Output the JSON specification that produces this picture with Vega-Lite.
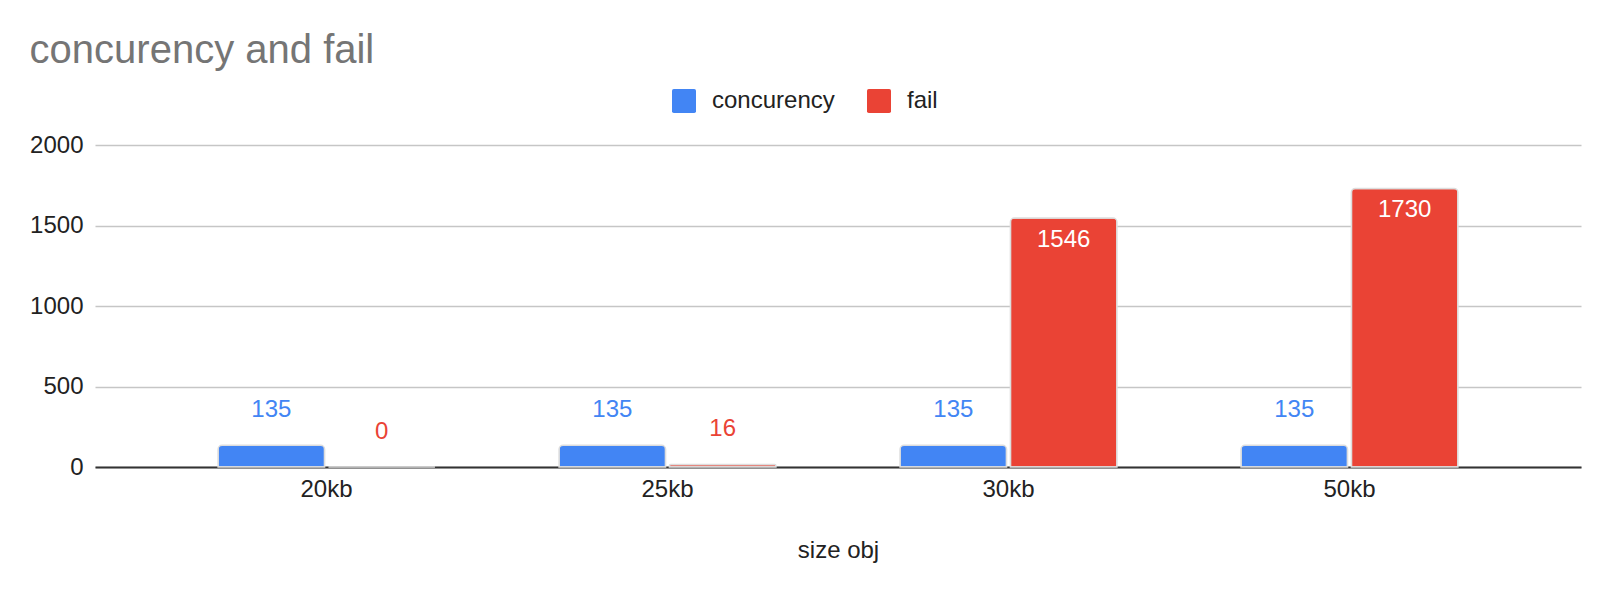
{
  "$schema": "https://vega.github.io/schema/vega-lite/v6.json",
  "width": 1486,
  "height": 322,
  "autosize": {"type": "none"},
  "padding": {"left": 95, "top": 145, "right": 29, "bottom": 125},
  "background": "white",
  "title": {
    "text": "concurency and fail",
    "anchor": "start",
    "frame": "bounds",
    "fontSize": 40,
    "font": "Liberation Sans",
    "fontWeight": "normal",
    "color": "#757575",
    "offset": 18
  },
  "config": {
    "view": {"stroke": null},
    "font": "Liberation Sans"
  },
  "data": {
    "values": [
      {"size": "20kb", "series": "concurency", "value": 135},
      {"size": "20kb", "series": "fail", "value": 0},
      {"size": "25kb", "series": "concurency", "value": 135},
      {"size": "25kb", "series": "fail", "value": 16},
      {"size": "30kb", "series": "concurency", "value": 135},
      {"size": "30kb", "series": "fail", "value": 1546},
      {"size": "50kb", "series": "concurency", "value": 135},
      {"size": "50kb", "series": "fail", "value": 1730}
    ]
  },
  "encoding": {
    "x": {
      "field": "size",
      "type": "nominal",
      "sort": null,
      "scale": {"paddingInner": 0.364, "paddingOuter": 0.361},
      "axis": {
        "title": "size obj",
        "titleFontSize": 24,
        "titleFontWeight": "normal",
        "titleColor": "#222222",
        "titlePadding": 37,
        "labelFontSize": 24,
        "labelColor": "#222222",
        "labelAngle": 0,
        "labelPadding": 10,
        "ticks": false,
        "domainColor": "#333333",
        "domainWidth": 1.8,
        "grid": false
      }
    },
    "xOffset": {
      "field": "series",
      "type": "nominal",
      "scale": {"paddingInner": 0.035, "paddingOuter": 0}
    },
    "y": {
      "field": "value",
      "type": "quantitative",
      "scale": {"domain": [0, 2000], "nice": false},
      "axis": {
        "title": null,
        "values": [0, 500, 1000, 1500, 2000],
        "format": "d",
        "labelFontSize": 24,
        "labelColor": "#222222",
        "labelPadding": 12,
        "ticks": false,
        "domain": false,
        "gridColor": "#c6c6c6",
        "gridWidth": 1.3
      }
    }
  },
  "layer": [
    {
      "mark": {
        "type": "bar",
        "cornerRadiusTopLeft": 4,
        "cornerRadiusTopRight": 4,
        "stroke": "#dddddd",
        "strokeWidth": 1.5
      },
      "encoding": {
        "color": {
          "field": "series",
          "type": "nominal",
          "scale": {"domain": ["concurency", "fail"], "range": ["#4285F4", "#EA4335"]},
          "legend": {
            "title": null,
            "orient": "none",
            "direction": "horizontal",
            "legendX": 577,
            "legendY": -56,
            "padding": 0,
            "labelFontSize": 24,
            "labelColor": "#222222",
            "labelOffset": 16,
            "columnPadding": 32,
            "symbolSize": 576,
            "symbolStrokeWidth": 0,
            "symbolType": "M -0.85 -1 H 0.85 Q 1 -1 1 -0.85 V 0.85 Q 1 1 0.85 1 H -0.85 Q -1 1 -1 0.85 V -0.85 Q -1 -1 -0.85 -1 Z"
          }
        }
      }
    },
    {
      "transform": [{"filter": "datum.value < 1000"}],
      "mark": {"type": "text", "fontSize": 24, "baseline": "middle", "dy": -35},
      "encoding": {
        "text": {"field": "value", "type": "quantitative"},
        "color": {"field": "series", "type": "nominal"}
      }
    },
    {
      "transform": [{"filter": "datum.value >= 1000"}],
      "mark": {"type": "text", "fontSize": 24, "baseline": "middle", "dy": 22, "color": "white"},
      "encoding": {
        "text": {"field": "value", "type": "quantitative"}
      }
    }
  ]
}
